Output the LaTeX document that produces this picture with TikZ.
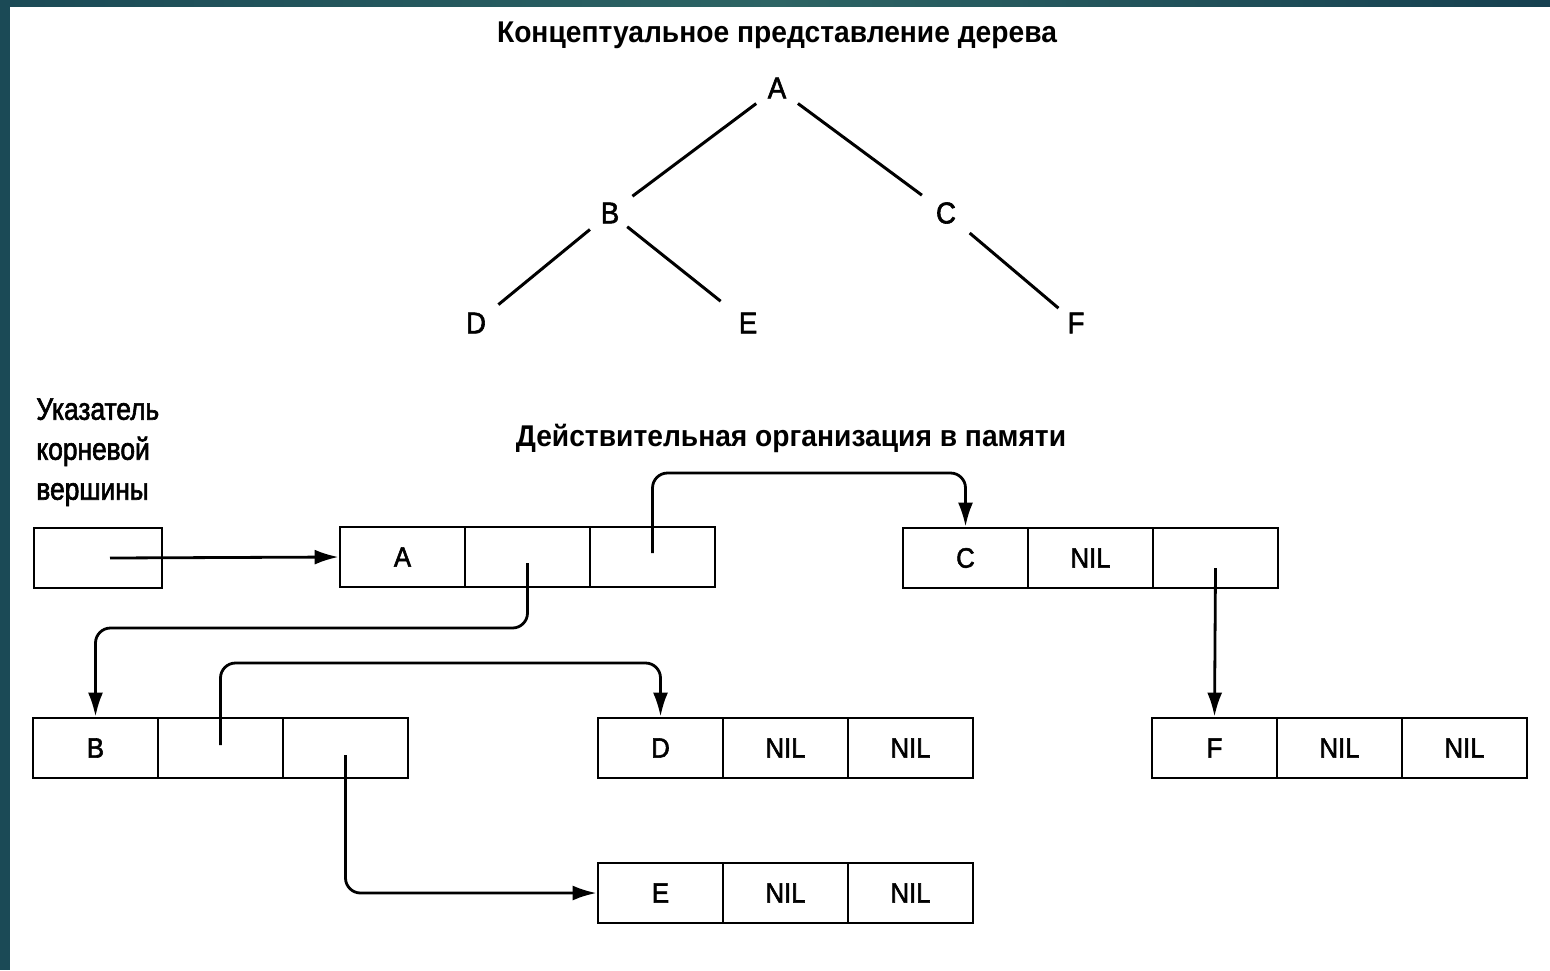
\documentclass[tikz,border=0pt]{standalone}
\usepackage{fontspec}
\setmainfont{Liberation Sans}
\newfontfamily\titlefont{Liberation Sans}[FakeStretch=0.94]
\newfontfamily\labelfont{Liberation Sans}[FakeStretch=0.85,FakeBold=2]
\newfontfamily\letterfont{Liberation Sans}[FakeStretch=0.92,FakeBold=2]
\usetikzlibrary{arrows.meta}
\definecolor{teal1}{RGB}{27,74,86}
\definecolor{teal2}{RGB}{45,100,100}
\definecolor{teal3}{RGB}{22,64,80}
\tikzset{
  cell/.style={draw, line width=1.4pt, minimum width=62.5pt, minimum height=30pt, inner sep=0pt, font=\letterfont\fontsize{14}{16}\selectfont},
  tnode/.style={inner sep=0pt, font=\letterfont\fontsize{15}{18}\selectfont},
  edge/.style={line width=1.5pt},
  arr/.style={line width=1.4pt, rounded corners=7.5pt, -{Latex[length=12pt,width=7.5pt]}},
  ttl/.style={font=\titlefont\bfseries\fontsize{15}{18}\selectfont, inner sep=0pt},
}
\newcommand\rec[6]{%
  \node[cell] (#11) at (#2+62.5,#3) {#4};
  \node[cell] (#12) at (#2+187.5,#3) {#5};
  \node[cell] (#13) at (#2+312.5,#3) {#6};
}
\begin{document}
\begin{tikzpicture}[x=0.5pt,y=-0.5pt]
\fill[white] (0,0) rectangle (1550,970);
\useasboundingbox (0,0) rectangle (1550,970);
\fill[teal1] (0,0) rectangle (10,970);
\shade[left color=teal1, right color=teal3, middle color=teal2] (0,0) rectangle (1550,6);
% titles
\node[ttl] (t1) at (777,35) {Концептуальное представление дерева};
\node[ttl] (t2) at (791,438) {Действительная организация в памяти};
% tree
\node[tnode] (tA) at (777,88) {A};
\node[tnode] (tB) at (610,213) {B};
\node[tnode] (tC) at (946,213) {C};
\node[tnode] (tD) at (476,323) {D};
\node[tnode] (tE) at (748,323) {E};
\node[tnode] (tF) at (1076,323) {F};
\draw[edge, shorten <=13pt, shorten >=14pt] (tA.center) -- (tB.center);
\draw[edge, shorten <=13pt, shorten >=15pt] (tA.center) -- (tC.center);
\draw[edge, shorten <=13pt, shorten >=14.5pt] (tB.center) -- (tD.center);
\draw[edge, shorten <=11pt, shorten >=17.5pt] (tB.center) -- (tE.center);
\draw[edge, shorten <=15.5pt, shorten >=11.5pt] (tC.center) -- (tF.center);
% pointer label
\node[font=\labelfont\fontsize{15.5}{20}\selectfont, align=left, anchor=north west, inner sep=0pt] (lbl) at (36,398) {Указатель\\корневой\\вершины};
\node[cell, minimum width=64pt] (P) at (98,558) {};
% records
\rec{A}{340}{557}{A}{}{}
\rec{C}{903}{558}{C}{NIL}{}
\rec{B}{33}{748}{B}{}{}
\rec{D}{598}{748}{D}{NIL}{NIL}
\rec{F}{1152}{748}{F}{NIL}{NIL}
\rec{E}{598}{893}{E}{NIL}{NIL}
% arrows
\draw[arr] ([xshift=6pt]P.center) -- (A1.west);
\draw[arr] ([yshift=-3pt]A2.center) -- (A2.center |- 0,628) -- (B1.north |- 0,628) -- (B1.north);
\draw[arr] ([yshift=2pt]A3.center) -- (A3.center |- 0,473) -- (C1.north |- 0,473) -- (C1.north);
\draw[arr] ([yshift=1.5pt]B2.center) -- (B2.center |- 0,663) -- (D1.north |- 0,663) -- (D1.north);
\draw[arr] ([yshift=-3.5pt]B3.center) -- (B3.center |- 0,893) -- (E1.west);
\draw[arr] ([yshift=-5pt]C3.center) -- (F1.north);
\end{tikzpicture}
\end{document}
